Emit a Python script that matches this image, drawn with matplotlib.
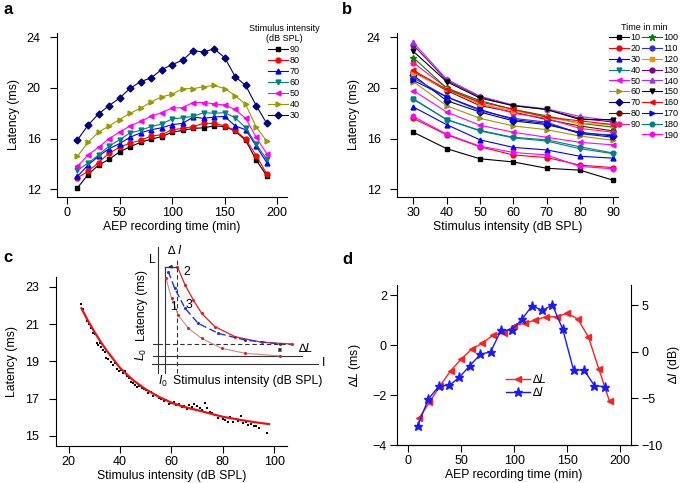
import numpy as np
import matplotlib.pyplot as plt
from matplotlib.lines import Line2D

plt.rcParams['font.family'] = ['Liberation Sans', 'DejaVu Sans']
plt.rcParams['mathtext.fontset'] = 'custom'
plt.rcParams['mathtext.rm'] = 'Liberation Sans'
plt.rcParams['mathtext.it'] = 'Liberation Sans:italic'
plt.rcParams['axes.linewidth'] = 0.8

# ---- panel a: latency vs recording time, one line per intensity
a_times = [10, 20, 30, 40, 50, 60, 70, 80, 90, 100, 110, 120, 130, 140, 150, 160, 170, 180, 190]
a_intensity = [90, 80, 70, 60, 50, 40, 30]
a_latency = [
    [12.1, 13.15, 13.9, 14.35, 14.95, 15.35, 15.7, 15.95, 16.15, 16.5, 16.65, 16.8, 16.85, 17.0, 16.95, 16.6, 15.85, 14.3, 13.05],
    [12.9, 13.4, 14.1, 14.85, 15.3, 15.65, 15.85, 16.2, 16.3, 16.7, 16.8, 16.95, 17.2, 17.2, 17.0, 16.65, 15.95, 14.65, 13.2],
    [13.0, 13.9, 14.6, 15.2, 15.6, 16.1, 16.45, 16.7, 16.85, 17.1, 17.2, 17.7, 17.6, 17.7, 17.75, 17.0, 16.7, 15.4, 14.1],
    [13.5, 14.05, 14.7, 15.4, 15.9, 16.45, 16.65, 16.95, 17.15, 17.55, 17.65, 17.75, 18.05, 18.0, 18.05, 17.65, 16.85, 15.55, 14.35],
    [13.8, 14.7, 15.3, 16.0, 16.5, 17.0, 17.35, 17.75, 18.05, 18.4, 18.45, 18.85, 18.85, 18.75, 18.65, 18.3, 17.6, 16.1, 14.8],
    [14.6, 15.7, 16.5, 17.0, 17.5, 18.0, 18.4, 18.9, 19.3, 19.5, 19.95, 19.95, 20.1, 20.2, 19.95, 19.4, 18.7, 16.9, 15.8],
    [15.9, 17.05, 17.95, 18.6, 19.2, 19.97, 20.5, 20.8, 21.45, 21.85, 22.2, 22.95, 22.85, 23.1, 22.4, 20.9, 20.2, 18.6, 17.2],
]
a_colors = ['black', '#ff0000', '#0000ff', '#008080', '#ff00ff', '#999900', '#000080']
a_markers = ['s', 'o', '^', 'v', '<', '>', 'D']

# ---- panel b: latency vs intensity, one line per recording time
b_intensity = [30, 40, 50, 60, 70, 80, 90]
b_times = [10, 20, 30, 40, 50, 60, 70, 80, 90, 100, 110, 120, 130, 140, 150, 160, 170, 180, 190]
b_latency = [
    [16.5, 15.2, 14.4, 14.15, 13.65, 13.5, 12.7],
    [17.6, 16.3, 15.35, 14.7, 14.5, 13.9, 13.7],
    [18.5, 17.1, 15.9, 15.3, 15.1, 14.6, 14.45],
    [19.1, 17.5, 16.6, 16.05, 15.8, 15.2, 14.8],
    [19.8, 18.1, 17.05, 16.5, 16.1, 15.7, 15.5],
    [20.5, 18.6, 17.6, 17.0, 16.7, 16.2, 15.85],
    [21.0, 19.0, 18.1, 17.4, 17.1, 16.5, 16.2],
    [21.3, 19.8, 18.6, 18.1, 17.5, 17.0, 16.6],
    [22.0, 20.0, 18.8, 18.0, 17.6, 16.8, 16.5],
    [22.4, 20.0, 19.0, 18.3, 17.8, 17.2, 16.9],
    [20.8, 19.3, 18.2, 17.6, 17.3, 16.4, 16.3],
    [21.2, 19.9, 18.7, 18.2, 17.7, 17.2, 17.1],
    [23.4, 20.6, 19.3, 18.6, 18.3, 17.6, 17.3],
    [23.6, 20.7, 19.35, 18.65, 18.35, 17.75, 17.4],
    [22.9, 20.5, 19.2, 18.6, 18.3, 17.5, 17.5],
    [21.4, 19.9, 18.9, 18.3, 17.7, 17.4, 17.1],
    [20.6, 19.3, 18.3, 17.5, 17.2, 16.4, 16.1],
    [19.15, 17.5, 16.65, 16.1, 15.9, 15.35, 14.85],
    [17.75, 16.35, 15.4, 14.9, 14.7, 13.8, 13.6],
]
b_colors = ['black', '#ff0000', '#0000ff', '#008080', '#ff00ff', '#999900', '#000080', '#800000', '#ff1493',
            '#008000', '#3333cc', '#ff8c00', '#800080', '#9933ff', 'black', '#ff0000', '#0000ff', '#008080', '#ff00ff']
b_markers = ['s', 'o', '^', 'v', '<', '>', 'D', 'o', 'o', '*', 'o', 's', 'o', '^', 'v', '<', '>', '8', 'h']

# ---- panel c: pooled latency vs intensity with fitted curve
c_points_x = [24.9, 25.6, 26.3, 27.2, 28.0, 28.8, 29.5, 30.3, 31.0, 31.6, 32.2, 32.8, 33.4, 34.0, 34.6, 35.3,
              36.0, 36.7, 37.4, 38.2, 39.0, 39.8, 40.5, 41.2, 41.9, 42.6, 43.4, 44.2, 45.0, 45.8, 46.6, 47.5,
              48.4, 49.3, 50.2, 51.1, 52.0, 53.0, 54.0, 55.0, 56.0, 57.0, 58.0, 59.0, 60.0, 61.0, 62.0, 63.0,
              64.0, 65.0, 66.0, 67.0, 68.0, 69.0, 70.0, 71.0, 72.0, 73.0, 74.0, 75.0, 76.0, 77.0, 78.0, 79.0,
              80.0, 81.0, 82.0, 83.0, 84.0, 85.0, 86.0, 87.0, 88.0, 89.0, 90.0, 91.0, 92.0, 93.0, 94.0, 97.3]
c_points_y = [22.1, 21.8, 21.5, 21.15, 21.0, 20.8, 20.55, 20.45, 20.0, 19.9, 20.0, 19.75, 19.6, 19.5, 19.2, 19.15,
              19.35, 18.95, 18.8, 18.9, 18.6, 18.5, 18.55, 18.4, 18.5, 18.2, 18.1, 17.9, 17.85, 17.75, 17.6, 17.7,
              17.55, 17.5, 17.45, 17.3, 17.35, 17.15, 17.2, 17.05, 16.95, 16.85, 16.9, 16.7, 16.75, 16.8, 16.65, 16.7,
              16.55, 16.6, 16.45, 16.65, 16.55, 16.7, 16.6, 16.5, 16.4, 16.75, 16.5, 16.3, 16.2, 16.1, 15.95, 16.05,
              15.9, 15.85, 15.75, 16.0, 15.75, 15.9, 15.8, 16.05, 15.7, 15.75, 15.6, 15.65, 15.5, 15.55, 15.4, 15.15]
c_fit_x = [25, 27.5, 30, 32.5, 35, 37.5, 40, 45, 50, 55, 60, 65, 70, 75, 80, 85, 90, 95, 98]
c_fit_y = [21.85, 21.2, 20.6, 20.05, 19.55, 19.1, 18.65, 18.0, 17.5, 17.1, 16.78, 16.55, 16.38, 16.2, 16.02, 15.9, 15.78, 15.68, 15.63]

# inset schematic (arbitrary units 0..100)
s_curve1_x = [10.0, 13.1, 16.8, 22.4, 29.8, 40.9, 53.9, 73.3]
s_curve1_y = [75.7, 61.5, 49.6, 40.2, 33.1, 26.0, 22.5, 20.6]
s_curve2_x = [16.3, 20.6, 25.2, 29.8, 37.2, 48.3, 63.1, 79.8]
s_curve2_y = [83.9, 70.9, 60.3, 50.8, 41.4, 34.3, 30.3, 29.1]
s_curve3_x = [11.3, 14.8, 20.6, 27.9, 39.1, 53.9, 73.3]
s_curve3_y = [80.4, 68.6, 54.4, 43.7, 36.6, 31.9, 29.1]
s_axis_L = 5.4
s_axis_I0 = 9.4
s_dash_I = 16.3
s_axis_base = 14.9
s_L0 = 20.6
s_dash_L = 29.1
s_top = 83.9

# ---- panel d: shifts in latency and intensity
d_times_L = [10, 20, 30, 40, 50, 60, 70, 80, 90, 100, 110, 120, 130, 140, 150, 160, 170, 180, 190]
d_delta_L = [-2.93, -2.29, -1.63, -1.03, -0.56, -0.16, 0.07, 0.4, 0.47, 0.77, 0.87, 1.0, 1.13, 1.13, 1.27, 1.04, 0.33, -0.97, -2.25]
d_times_I = [8.9, 18.9, 29.0, 38.8, 48.2, 58.0, 68.1, 77.8, 87.6, 97.7, 107.2, 116.9, 126.4, 136.1, 145.9, 156.0, 165.8, 175.8, 185.9]
d_delta_I = [-7.93, -5.07, -3.68, -3.6, -2.75, -1.5, -0.29, 0.0, 2.32, 2.32, 3.46, 4.93, 4.43, 5.0, 2.39, -1.96, -1.96, -3.64, -3.75]

W, H = 685, 483
fig = plt.figure(figsize=(W / 100, H / 100), dpi=100)


def box(x0, y0, x1, y1):
    return [x0 / W, 1 - y1 / H, (x1 - x0) / W, (y1 - y0) / H]


def style(ax, ypad=7):
    ax.spines['top'].set_visible(False)
    ax.spines['right'].set_visible(False)
    ax.tick_params(direction='out', length=5, width=0.8, labelsize=9)
    ax.tick_params(axis='x', pad=2.5)
    ax.tick_params(axis='y', pad=ypad)


# panel a
ax = fig.add_axes(box(57.3, 33, 286.7, 196.7))
for vals, lab, c, m in zip(a_latency, a_intensity, a_colors, a_markers):
    ax.plot(a_times, vals, color=c, marker=m, markersize=3.5, lw=0.8, label=str(lab))
ax.set_xlim(-9.2, 209)
ax.set_ylim(11.4, 24.35)
ax.set_xticks([0, 50, 100, 150, 200])
ax.set_yticks([12, 16, 20, 24])
style(ax)
ax.set_xlabel('AEP recording time (min)', fontsize=8.8, labelpad=1)
ax.set_ylabel('Latency (ms)', fontsize=8.8, labelpad=5)
leg = ax.legend(title='Stimulus intensity\n(dB SPL)', loc='upper center', bbox_to_anchor=(284 / W, 1 - 19 / H),
                bbox_transform=fig.transFigure, frameon=False, fontsize=6.5, title_fontsize=6.5,
                handlelength=2.2, handletextpad=0.2, labelspacing=0.22, borderpad=0)
leg.get_title().set_multialignment('center')

# panel b
ax = fig.add_axes(box(397.3, 33, 618.3, 196.7))
handles = []
for vals, t, c, m in zip(b_latency, b_times, b_colors, b_markers):
    ms = 5 if m == '*' else 3.5
    h, = ax.plot(b_intensity, vals, color=c, marker=m, markersize=ms, lw=0.8, label=str(t))
    handles.append(h)
ax.set_xlim(25.2, 91.5)
ax.set_ylim(11.4, 24.35)
ax.set_xticks(b_intensity)
ax.set_yticks([12, 16, 20, 24])
style(ax)
ax.set_xlabel('Stimulus intensity (dB SPL)', fontsize=8.8, labelpad=1)
ax.set_ylabel('Latency (ms)', fontsize=8.8, labelpad=5)
blank = Line2D([], [], color='none')
hl = handles[:9] + [blank] + handles[9:]
ll = [str(t) for t in b_times[:9]] + [''] + [str(t) for t in b_times[9:]]
ax.legend(hl, ll, title='Time in min', ncol=2, loc='upper center', bbox_to_anchor=(644 / W, 1 - 18 / H),
          bbox_transform=fig.transFigure, frameon=False, fontsize=6.5, title_fontsize=6.5,
          handlelength=2.2, handletextpad=0.15, labelspacing=0.2, columnspacing=0.2, borderpad=0)

# panel c
ax = fig.add_axes(box(55.7, 276.7, 287, 446))
ax.scatter(c_points_x, c_points_y, s=4, marker='s', color='black', lw=0, zorder=2)
ax.plot(c_fit_x, c_fit_y, color='#ee1111', lw=1.6, zorder=3)
ax.set_xlim(15, 105)
ax.set_ylim(14.45, 23.55)
ax.set_xticks([20, 40, 60, 80, 100])
ax.set_yticks([15, 17, 19, 21, 23])
style(ax)
ax.set_xlabel('Stimulus intensity (dB SPL)', fontsize=8.8, labelpad=1)
ax.set_ylabel('Latency (ms)', fontsize=8.8, labelpad=5)

ins = fig.add_axes(box(148, 244, 328, 385))
ins.set_xlim(0, 100)
ins.set_ylim(0, 100)
ins.axis('off')
k = dict(color='#333333', lw=0.8)
ins.plot([s_axis_L, s_axis_L], [8.5, 98.1], **k)
ins.plot([s_axis_I0, s_axis_I0], [8.5, s_top], **k)
ins.plot([s_dash_I, s_dash_I], [8.5, 88.7], ls='--', dashes=(4, 2.5), **k)
ins.plot([2.1, 94.4], [s_axis_base, s_axis_base], **k)
ins.plot([2.8, 85.4], [s_L0, s_L0], **k)
ins.plot([2.8, s_axis_L], [s_dash_L, s_dash_L], **k)
ins.plot([s_axis_L, 79.8], [s_dash_L, s_dash_L], ls='--', dashes=(4, 2.5), **k)
ins.plot(s_curve1_x, s_curve1_y, color='#cc8888', lw=0.8, marker='.', markersize=2.5, mfc='#dd2222', mec='#dd2222')
ins.plot(s_curve2_x, s_curve2_y, color='#e02020', lw=0.9, marker='.', markersize=2.5)
ins.plot(s_curve3_x, s_curve3_y, color='#2233dd', lw=1.0, ls='--', dashes=(5, 2.5), marker='.', markersize=2.5)
ins.plot([s_axis_I0, s_dash_I], [s_top, s_top], color='#2233dd', lw=1.0)
ins.annotate('', xy=(s_axis_I0 + 0.3, s_top), xytext=(s_dash_I - 1, s_top),
             arrowprops=dict(arrowstyle='->', color='#222222', lw=0.7, mutation_scale=5))
ins.annotate('', xy=(73.3, s_L0 + 0.5), xytext=(73.3, s_dash_L - 0.5),
             arrowprops=dict(arrowstyle='<->', color='#222222', lw=0.7, mutation_scale=5))
tf = 8.8
ins.text(2.4, 88.7, 'L', fontsize=tf, ha='center', va='center')
ins.text(13.0, 95, '\u2206', fontsize=tf, ha='center', va='center', style='italic')
ins.text(17.3, 95, 'I', fontsize=tf, ha='center', va='center', style='italic')
ins.text(21.5, 80.4, '2', fontsize=tf, ha='center', va='center')
ins.text(23.0, 56.7, '3', fontsize=tf, ha='center', va='center')
ins.text(14.1, 55.5, '1', fontsize=tf, ha='center', va='center')
ins.text(-3.5, 56.7, 'Latency (ms)', fontsize=tf, ha='center', va='center', rotation=90)
ins.text(-3.5, 22, r'$\mathit{L}_{\mathit{0}}$', fontsize=tf, ha='center', va='center', rotation=90)
ins.text(8.3, 2.5, r'$\mathit{I}_{\mathit{0}}$', fontsize=tf, ha='center', va='center')
ins.text(55.5, 3.0, 'Stimulus intensity (dB SPL)', fontsize=tf, ha='center', va='center')
ins.text(88, 25.5, '\u2206L', fontsize=tf, ha='center', va='center', style='italic')
ins.text(97.5, 15.9, 'I', fontsize=tf, ha='center', va='center')

# panel d
ax = fig.add_axes(box(397.3, 285, 630.7, 445))
ax2 = ax.twinx()
l1, = ax.plot(d_times_L, d_delta_L, color='#ff2020', marker='<', markersize=4, lw=1.0, label='\u2206L')
l2, = ax2.plot(d_times_I, d_delta_I, color='#1a1aff', marker='*', markersize=6.5, lw=1.0, label='\u2206I')
ax.set_xlim(-10.4, 210)
ax.set_ylim(-4, 2.4)
ax2.set_ylim(-10, 7.15)
ax.set_xticks([0, 50, 100, 150, 200])
ax.set_yticks([-4, -2, 0, 2])
ax2.set_yticks([-10, -5, 0, 5])
style(ax, ypad=2.5)
ax.set_xlabel('AEP recording time (min)', fontsize=8.8, labelpad=1)
ax.set_ylabel('$\\mathit{\u2206L}$ (ms)', fontsize=8.8, labelpad=7)
ax2.set_ylabel('$\\mathit{\u2206I}$ (dB)', fontsize=8.8, labelpad=2.5, rotation=90)
ax2.spines['top'].set_visible(False)
ax2.spines['left'].set_visible(False)
ax2.tick_params(direction='out', length=5, width=0.8, labelsize=9, pad=2.5)
ax.legend([l1, l2], ['\u2206L', '\u2206I'], loc='upper left', bbox_to_anchor=(500 / W, 1 - 368 / H),
          bbox_transform=fig.transFigure, frameon=False, prop={'size': 8.5, 'style': 'italic'},
          handlelength=2.0, handletextpad=0.3, labelspacing=0.1, borderpad=0)

# panel letters
for lab, x, y in [('a', 3, 14), ('b', 342, 14), ('c', 3, 262), ('d', 342, 264)]:
    fig.text(x / W, 1 - y / H, lab, fontsize=12, fontweight='bold', ha='left', va='baseline')

fig.savefig('out.png', dpi=100)
